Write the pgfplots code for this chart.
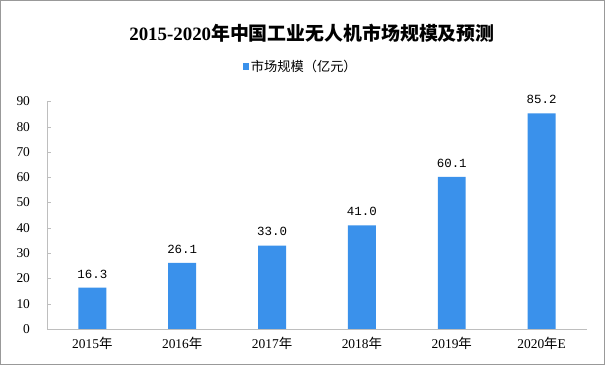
\documentclass[border=0pt]{standalone}
\usepackage{pgfplots}
\pgfplotsset{compat=1.18}
\usepackage{fontspec}
\setmainfont{Liberation Serif}
\newfontfamily\cjk{Noto Sans CJK SC}
\newfontfamily\monofont{Liberation Mono}
\definecolor{barblue}{RGB}{58,145,235}
\definecolor{axgray}{RGB}{190,190,190}
\begin{document}
\begin{tikzpicture}[x=1bp,y=1bp]
\draw[fill=white,draw=gray!80,line width=1bp] (0,0) rectangle (605,365);
\node[font={\fontsize{19}{21}\selectfont\bfseries}] at (312,332) {2015-2020\cjk\bfseries 年中国工业无人机市场规模及预测};
\begin{axis}[
  at={(47bp,36bp)}, anchor=south west,
  scale only axis, width=540bp, height=228bp,
  xmin=-0.5, xmax=5.5, ymin=0, ymax=90,
  ybar, bar width=28bp,
  axis x line*=bottom, axis y line*=left,
  x axis line style={draw=axgray,-}, y axis line style={draw=axgray,-},
  xtick=data,
  xticklabels={2015{\cjk 年},2016{\cjk 年},2017{\cjk 年},2018{\cjk 年},2019{\cjk 年},2020{\cjk 年}E},
  xtick style={draw=none},
  ytick={0,10,...,90},
  ytick style={draw=axgray},
  tick align=inside, major tick length=4bp,
  /pgf/number format/assume math mode=true,
  ticklabel style={font=\fontsize{13.5}{15}\selectfont},
  xticklabel style={yshift=-5bp},
  yticklabel style={xshift=-14bp},
  nodes near coords,
  nodes near coords style={font=\fontsize{12.5}{14}\selectfont\monofont, yshift=6bp, /pgf/number format/.cd, fixed, fixed zerofill, precision=1},
  legend style={at={(0.47,1.0)}, anchor=south, yshift=24bp, draw=none, fill=none, font=\fontsize{13.3}{15}\selectfont\cjk},
  legend image code/.code={\fill[barblue] (0bp,-3bp) rectangle (6bp,4bp);},
]
\addplot[fill=barblue, draw=none] coordinates {(0,16.3) (1,26.1) (2,33.0) (3,41.0) (4,60.1) (5,85.2)};
\addlegendentry{市场规模（亿元）}
\end{axis}
\end{tikzpicture}
\end{document}
